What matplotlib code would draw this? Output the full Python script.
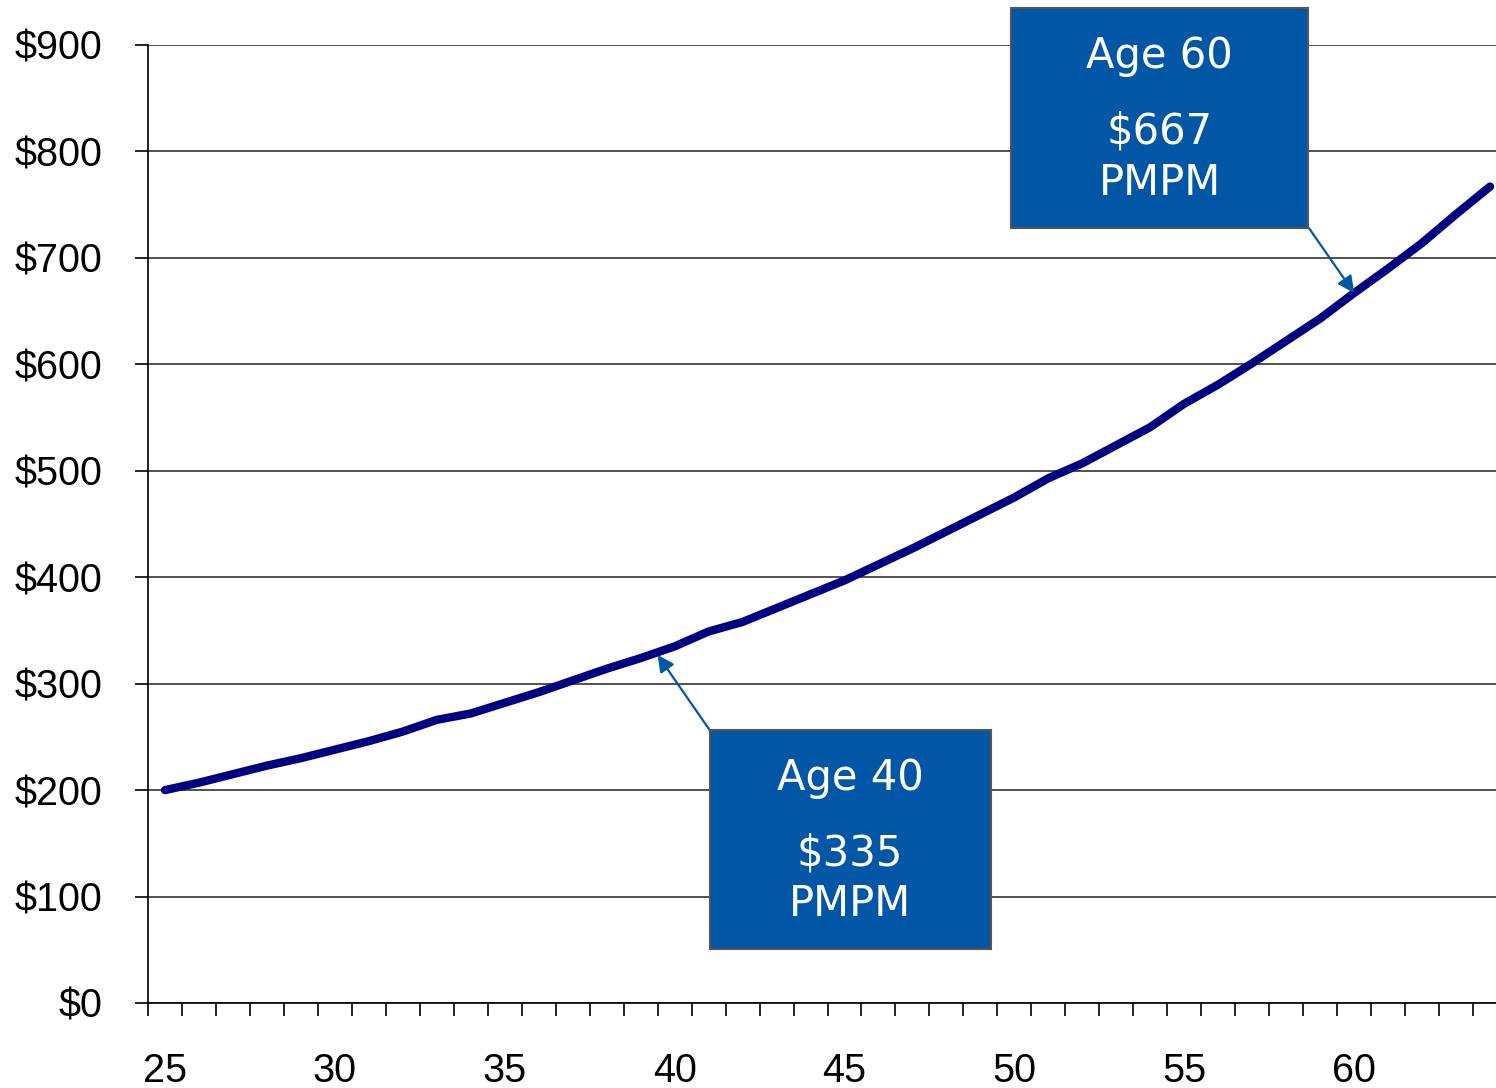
import matplotlib.pyplot as plt
from matplotlib.patches import Rectangle
from matplotlib.ticker import FixedLocator

ages = list(range(25, 65))
pmpm = [200, 207, 215, 223, 230, 238, 246, 255, 266, 272,
        282, 292, 303, 314, 324, 335, 349, 358, 371, 384,
        397, 412, 427, 443, 459, 475, 493, 507, 524, 541,
        563, 581, 601, 622, 643, 667, 690, 714, 741, 767]
label_ages = [25, 30, 35, 40, 45, 50, 55, 60]
y_ticks = list(range(0, 901, 100))

callouts = [
    # age, value shown, box (x0, x1, y0, y1), arrow tail, arrow tip
    (60, 667, (24.9, 33.65, 728, 935), (33.67, 728), (35.0, 667)),
    (40, 335, (16.03, 24.3, 50.7, 256.5), (16.04, 256), (14.5, 327)),
]

BOX_BLUE = '#0157A6'

fig = plt.figure(figsize=(14.96, 10.88), dpi=100)
ax = fig.add_axes([148 / 1496, 1 - 1003 / 1088, 1359 / 1496, 958 / 1088])

x = list(range(len(ages)))
ax.plot(x, pmpm, color='#000080', lw=6, solid_capstyle='round',
        solid_joinstyle='round', zorder=3)

ax.set_xlim(-0.5, len(ages) - 0.5)
ax.set_ylim(0, 900)

ax.set_yticks(y_ticks)
ax.set_yticklabels(['$%d' % v for v in y_ticks], fontfamily='Liberation Sans',
                   fontsize=28.5)
ax.yaxis.grid(True, color='#333333', lw=1.2)
ax.tick_params(axis='y', length=9.5, width=1.2, pad=23.5, direction='out')

ax.xaxis.set_major_locator(FixedLocator([ages.index(a) for a in label_ages]))
ax.set_xticklabels([str(a) for a in label_ages], fontfamily='Liberation Sans',
                   fontsize=28.5)
ax.xaxis.set_minor_locator(FixedLocator([i - 0.5 for i in range(len(ages) + 1)]))
ax.tick_params(axis='x', which='major', length=0, pad=35)
ax.tick_params(axis='x', which='minor', length=9.5, width=1.2, direction='out')

for side in ['top', 'right']:
    ax.spines[side].set_visible(False)
for side in ['left', 'bottom']:
    ax.spines[side].set_linewidth(1.2)
    ax.spines[side].set_color('black')

for age, value, (x0, x1, y0, y1), tail, tip in callouts:
    ax.add_patch(Rectangle((x0, y0), x1 - x0, y1 - y0, facecolor=BOX_BLUE,
                           edgecolor='#555555', lw=1.5, clip_on=False, zorder=5))
    cx = (x0 + x1) / 2
    h = y1 - y0
    ax.text(cx, y1 - 0.22 * h, 'Age %d' % age, color='white', fontsize=30,
            fontfamily='DejaVu Sans', ha='center', va='center', zorder=6,
            clip_on=False)
    ax.text(cx, y1 - 0.562 * h, '$%d' % value, color='white', fontsize=30,
            fontfamily='DejaVu Sans', ha='center', va='center', zorder=6)
    ax.text(cx, y1 - 0.795 * h, 'PMPM', color='white', fontsize=30,
            fontfamily='DejaVu Sans', ha='center', va='center', zorder=6)
    ax.annotate('', xy=tip, xytext=tail,
                arrowprops=dict(arrowstyle='-|>', color=BOX_BLUE, lw=1.6,
                                mutation_scale=25, shrinkA=0, shrinkB=0),
                zorder=4)

fig.savefig('out.png', dpi=100)
